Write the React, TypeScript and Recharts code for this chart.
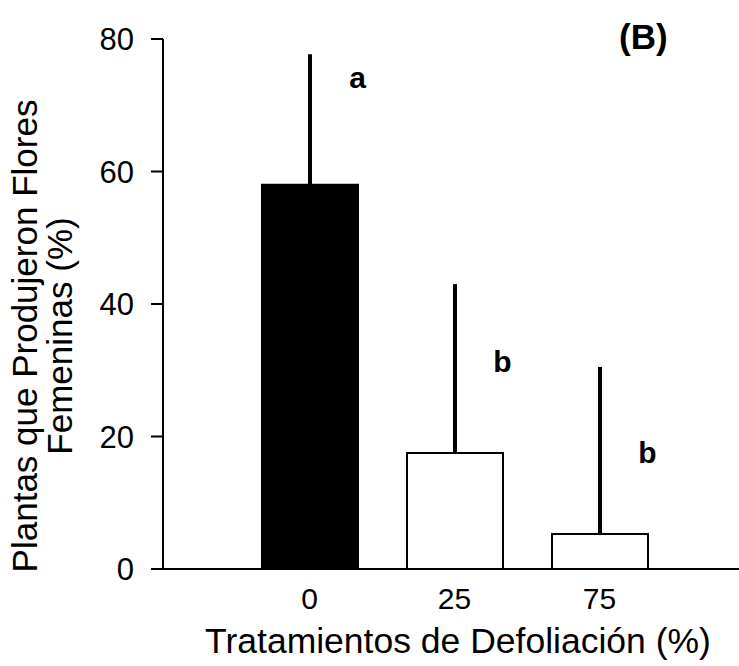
import { BarChart, Bar, XAxis, YAxis, Cell, ErrorBar, ReferenceDot } from 'recharts'

// ── data ────────────────────────────────────────────────────────────────────

const treatments = ['0', '25', '75']
const plantsPct = [58, 17.5, 5.3]
const upperError = [19.7, 25.5, 25.2]
const letters = ['a', 'b', 'b']
const letterLevel = [72.6, 29.7, 16]
const yTicks = [0, 20, 40, 60, 80]

const barFills = ['#000000', '#ffffff', '#ffffff']

const chartData = treatments.map((t, i) => ({
  trat: t,
  pct: plantsPct[i],
  err: [0, upperError[i]],
}))

const FONT = '"Liberation Sans", Arial, Helvetica, sans-serif'
const BAR_SIZE = 96

// ── axis titles ─────────────────────────────────────────────────────────────

function YTitle() {
  const cy = 336
  return (
    <g fontFamily={FONT} fontSize={35} fill="#000">
      <text x={37} y={cy} textAnchor="middle" transform={`rotate(-90, 37, ${cy})`}>
        Plantas que Produjeron Flores
      </text>
      <text x={72} y={cy} textAnchor="middle" transform={`rotate(-90, 72, ${cy})`}>
        Femeninas (%)
      </text>
    </g>
  )
}

function XTitle(props: any) {
  const vb = props.viewBox ?? { x: 0, width: 0 }
  return (
    <text
      x={vb.x + vb.width / 2 + 7}
      y={653}
      textAnchor="middle"
      fontFamily={FONT}
      fontSize={35.5}
      fill="#000"
    >
      Tratamientos de Defoliación (%)
    </text>
  )
}

function letterShape(letter: string) {
  return (props: any) => (
    <text
      x={props.cx + BAR_SIZE / 2}
      y={props.cy}
      textAnchor="middle"
      fontFamily={FONT}
      fontWeight="bold"
      fontSize={30}
      fill="#000"
    >
      {letter}
    </text>
  )
}

// ── chart ───────────────────────────────────────────────────────────────────

export default function App() {
  return (
    <div style={{ position: 'relative', width: 739, height: 666, background: '#fff' }}>
      <style>{'body{margin:0;background:#fff}'}</style>
      <BarChart
        width={739}
        height={666}
        data={chartData}
        margin={{ top: 39, right: 0, bottom: 37, left: 83 }}
      >
        <XAxis
          dataKey="trat"
          height={60}
          padding={{ left: 74, right: 67 }}
          tickLine={false}
          tickSize={8}
          tickMargin={11}
          axisLine={{ stroke: '#000', strokeWidth: 2 }}
          tick={{ fill: '#000', fontSize: 30, fontFamily: FONT }}
          label={{ content: XTitle }}
        />
        <YAxis
          width={80}
          domain={[0, 80]}
          ticks={yTicks}
          interval={0}
          tickSize={12}
          tickMargin={17}
          axisLine={{ stroke: '#000', strokeWidth: 2 }}
          tickLine={{ stroke: '#000', strokeWidth: 2 }}
          tick={{ fill: '#000', fontSize: 31, fontFamily: FONT }}
          label={{ content: YTitle }}
        />
        <Bar dataKey="pct" barSize={BAR_SIZE} stroke="#000" strokeWidth={2} isAnimationActive={false}>
          {chartData.map((d, i) => (
            <Cell key={d.trat} fill={barFills[i]} />
          ))}
          <ErrorBar dataKey="err" width={0} stroke="#000" strokeWidth={4} direction="y" />
        </Bar>
        {treatments.map((t, i) => (
          <ReferenceDot
            key={t}
            x={t}
            y={letterLevel[i]}
            r={0}
            shape={letterShape(letters[i])}
          />
        ))}
      </BarChart>
      <div
        style={{
          position: 'absolute',
          left: 619,
          top: 17,
          fontFamily: FONT,
          fontWeight: 'bold',
          fontSize: 35,
          lineHeight: '40px',
          color: '#000',
        }}
      >
        (B)
      </div>
    </div>
  )
}
